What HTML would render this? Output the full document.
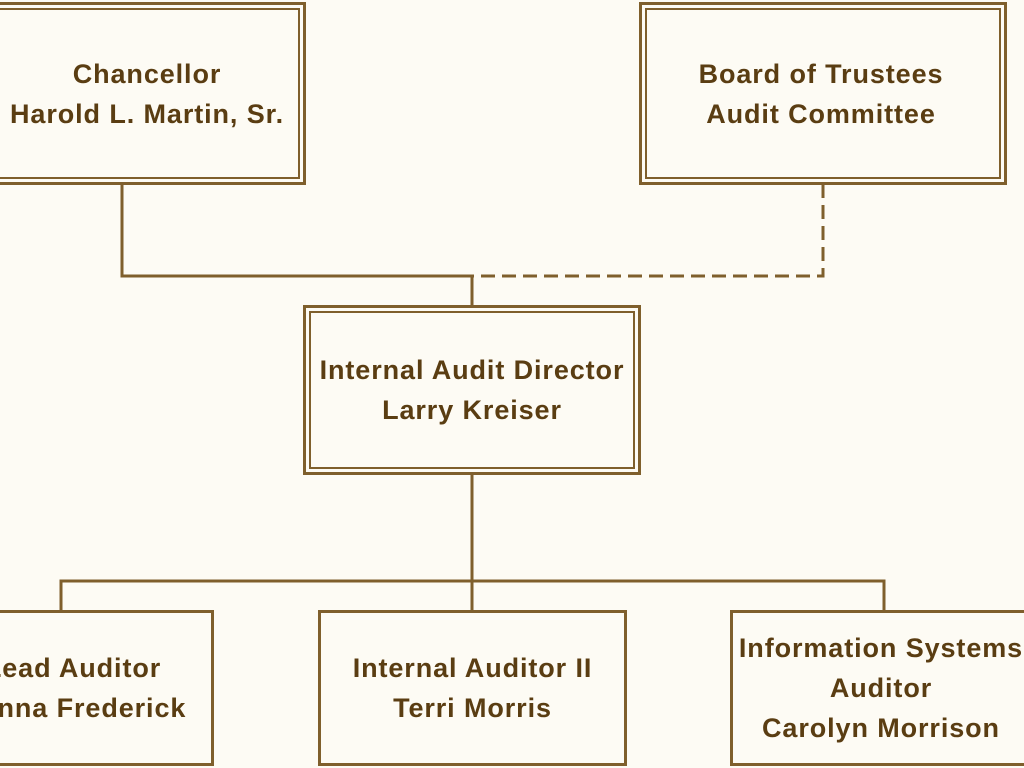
<!DOCTYPE html>
<html><head><style>
body{margin:0;width:1024px;height:768px;background:#fdfbf4;overflow:hidden;position:relative;font-family:"Liberation Sans",sans-serif;}
.b{position:absolute;box-sizing:border-box;display:flex;align-items:center;justify-content:center;text-align:center;color:#5a3d12;font-size:27px;font-weight:bold;line-height:40px;letter-spacing:0.9px;white-space:nowrap}
.d{border:3px solid #7f5f2c;box-shadow:inset 0 0 0 3px #fdfbf4,inset 0 0 0 5px #7f5f2c;}
.s{border:3px solid #7f5f2c;}
</style></head><body>
<svg width="1024" height="768" style="position:absolute;left:0;top:0">
<g stroke="#7f5f2c" stroke-width="3" fill="none">
<polyline points="122,184 122,276 472,276 472,306"/>
<polyline points="823,184 823,276 472,276" stroke-dasharray="14,7"/>
<polyline points="472,474 472,612"/>
<polyline points="61,612 61,581 884,581 884,612"/>
</g></svg>
<div class="b d" style="left:-12px;top:2px;width:318px;height:183px;padding-left:0px">Chancellor<br>Harold L. Martin, Sr.</div>
<div class="b d" style="left:639px;top:2px;width:368px;height:183px;padding-right:4px">Board of Trustees<br>Audit Committee</div>
<div class="b d" style="left:303px;top:305px;width:338px;height:170px">Internal Audit Director<br>Larry Kreiser</div>
<div class="b s" style="left:-110px;top:610px;width:324px;height:156px;padding-left:42px">Lead Auditor<br>Donna Frederick</div>
<div class="b s" style="left:318px;top:610px;width:309px;height:156px">Internal Auditor II<br>Terri Morris</div>
<div class="b s" style="left:730px;top:610px;width:310px;height:156px;padding-right:8px">Information Systems<br>Auditor<br>Carolyn Morrison</div>
</body></html>
